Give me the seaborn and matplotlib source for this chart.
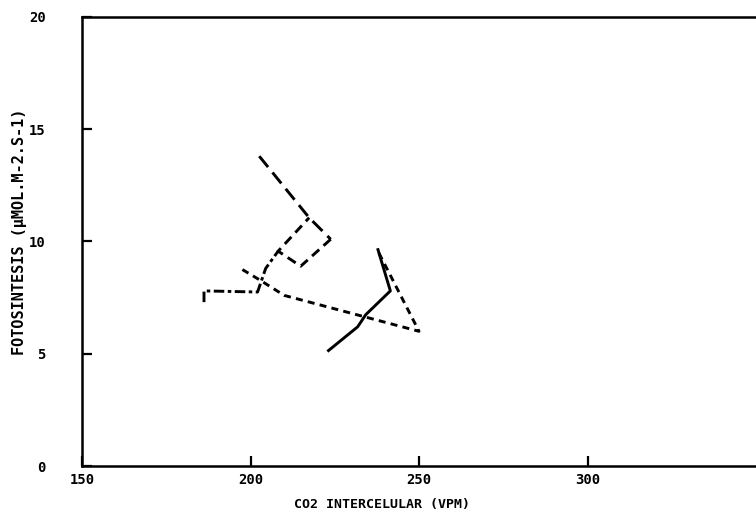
import matplotlib
matplotlib.use("Agg")
import matplotlib.pyplot as plt
import pandas as pd
import seaborn as sns

# values
ci_larga = [202.6, 217.4, 223.8]
fot_larga = [13.8, 11.06, 10.1]

ci_media = [223.8, 214.9, 208.2, 217.4]
fot_media = [10.1, 8.9, 9.57, 11.06]

ci_punto = [186.2, 186.2, 202.1, 204.5, 208.2]
fot_punto = [7.3, 7.8, 7.75, 8.8, 9.57]

ci_corta = [197.6, 202.6, 210.0, 250.0, 239.6, 237.7]
fot_corta = [8.75, 8.3, 7.6, 6.0, 9.05, 9.6]

ci_cont = [222.8, 231.8, 234.2, 241.5, 237.7]
fot_cont = [5.1, 6.2, 6.74, 7.8, 9.7]

x_ticks = [150, 200, 250, 300]
y_ticks = [0, 5, 10, 15, 20]

curvas = {
    "larga": (ci_larga, fot_larga),
    "media": (ci_media, fot_media),
    "punto": (ci_punto, fot_punto),
    "corta": (ci_corta, fot_corta),
    "continua": (ci_cont, fot_cont),
}
rows = []
for name, (xs, ys) in curvas.items():
    for i, (xv, yv) in enumerate(zip(xs, ys)):
        rows.append({"curva": name, "orden": i, "ci": xv, "fot": yv})
df = pd.DataFrame(rows)

sns.set_style("white")
plt.rcParams["font.family"] = ["DejaVu Sans Mono", "DejaVu Sans"]
plt.rcParams["font.weight"] = "bold"
plt.rcParams["text.color"] = "black"
plt.rcParams["axes.labelcolor"] = "black"
plt.rcParams["xtick.color"] = "black"
plt.rcParams["ytick.color"] = "black"

fig = plt.figure(figsize=(7.56, 5.28), dpi=100)
ax = fig.add_axes([82 / 756, 1 - 466 / 528, 1 - 82 / 756, (466 - 17) / 528])

sns.lineplot(
    data=df, x="ci", y="fot", style="curva", color="black",
    dashes={"larga": (4.8, 2.4), "media": (3.3, 2.0), "punto": (3.6, 1.2, 1.2, 1.2),
            "corta": (2.4, 1.8), "continua": ""},
    sort=False, estimator=None, linewidth=2.1, legend=False, ax=ax,
)
for line in ax.get_lines():
    line.set_solid_capstyle("butt")
    line.set_dash_capstyle("butt")

ax.set_xlim(150, 350)
ax.set_ylim(0, 20)
ax.set_xticks(x_ticks)
ax.set_yticks(y_ticks)
ax.tick_params(bottom=True, left=True, direction="in", length=7, width=1.6,
               color="black", labelcolor="black")
ax.tick_params(axis="x", labelsize=10, pad=5)
ax.tick_params(axis="y", labelsize=10, pad=26)
for lab in ax.get_xticklabels() + ax.get_yticklabels():
    lab.set_fontweight("bold")

for side in ["left", "bottom", "top"]:
    ax.spines[side].set_visible(True)
    ax.spines[side].set_color("black")
    ax.spines[side].set_linewidth(1.8)
ax.spines["right"].set_visible(False)

ax.set_xlabel("CO2 INTERCELULAR (VPM)", fontsize=9.5, fontweight="bold")
ax.set_ylabel("FOTOSINTESIS (\u00b5MOL.M-2.S-1)", fontsize=11, fontweight="bold")
ax.xaxis.set_label_coords((382 - 82) / 674, (466 - 498) / 449)
ax.yaxis.set_label_coords((27 - 82) / 674, (466 - 232) / 449)

fig.savefig("out.png", dpi=100)
